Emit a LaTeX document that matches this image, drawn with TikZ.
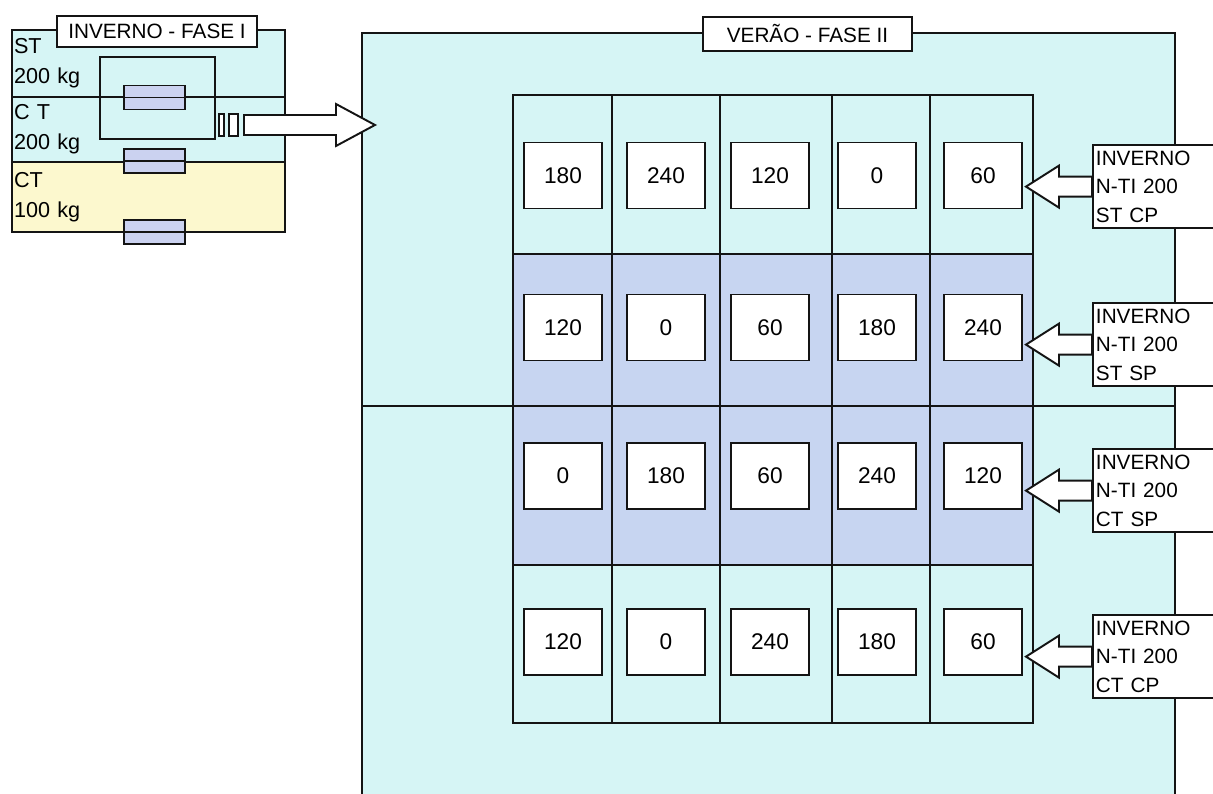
\documentclass[tikz,border=0pt]{standalone}
\usepackage{fontspec}
\setmainfont{Liberation Sans}
\usetikzlibrary{
  calc,
  positioning
}
\definecolor{ink}{HTML}{141414}
\definecolor{aqua}{HTML}{D6F5F5}
\definecolor{band}{HTML}{C7D5F1}
\definecolor{cream}{HTML}{FCF8CE}
\definecolor{tagblue}{HTML}{CBD2F0}
\newcommand{\lbl}{\fontsize{11.8}{16.2}\selectfont}
\newcommand{\num}{\fontsize{12.9}{15}\selectfont}
\newcommand{\fatarrow}[3]{%
  \draw[fat] ($(#1)+(0,-10)$) -- ($(#2)+(#3,-10)$) -- ($(#2)+(#3,-21)$) --
    (#2) -- ($(#2)+(#3,21)$) -- ($(#2)+(#3,10)$) -- ($(#1)+(0,10)$) -- cycle;
}
\tikzset{
  rule/.style={
    draw=ink,
    line width=1.1pt
  },
  panel/.style={
    rule,
    fill=aqua
  },
  fat/.style={
    rule,
    fill=white,
    line join=miter
  },
  section/.style={
    rule,
    fill=aqua,
    anchor=north west,
    outer sep=0pt,
    inner xsep=0.4mm,
    text width=53.8mm,
    align=left,
    font=\fontsize{12.3}{17}\selectfont
  },
  title/.style={
    rule,
    fill=white,
    inner sep=0pt,
    font=\lbl
  },
  tag/.style={
    rule,
    fill=tagblue,
    minimum width=12.2mm,
    minimum height=4.8mm,
    inner sep=0pt,
    path picture={
      \draw[rule] (path picture bounding box.west) --
        (path picture bounding box.east);
    }
  },
  dose/.style={
    rule,
    fill=white,
    minimum width=15.6mm,
    minimum height=13.2mm,
    inner sep=0pt,
    font=\num
  },
  trat/.style={
    rule,
    fill=white,
    anchor=north west,
    minimum height=16.6mm,
    text width=27mm,
    inner xsep=0.6mm,
    align=left,
    font=\lbl
  }
}

\begin{document}
\begin{tikzpicture}[x=0.2mm, y=-0.2mm]
  \useasboundingbox (0,0) rectangle (1213,794);
  \clip (0,0) rectangle (1213,794);

  \node[section, minimum height=13.4mm] (st) at (12,30) {ST\\200 kg};
  \node[section, minimum height=13mm, below=0mm of st] (ct1) {C T\\200 kg};
  \node[section, minimum height=14mm, fill=cream, below=0mm of ct1] (ct2)
    {CT\\100 kg};
  \node[rule, minimum width=23mm, minimum height=16.4mm] (sel) at (157.5,98) {};
  \node[tag] (t1) at ($(st.south)+(6,0.5)$) {};
  \node[tag] (t2) at ($(ct1.south)+(6,-1)$) {};
  \node[tag] (t3) at ($(ct2.south)+(6,0)$) {};
  \node[title, minimum width=40mm, minimum height=6.2mm] (fase1) at (157,31.5)
    {INVERNO - FASE I};

  \draw[panel] (362,33) rectangle (1175,850);
  \fill[band] (513,254) rectangle (1033,565);
  \draw[rule] (362,406) -- (1175,406);
  \draw[rule] (513,95) rectangle (1033,723);
  \draw[rule] (612,95) -- (612,723) (720,95) -- (720,723)
    (832,95) -- (832,723) (930,95) -- (930,723)
    (513,254) -- (1033,254) (513,565) -- (1033,565);
  \node[title, minimum width=41.8mm, minimum height=6.8mm] (fase2)
    at (807.5,34) {VERÃO - FASE II};

  \node[dose] (v11) at (563,175.5) {180};
  \node[dose] (v12) at (666,175.5) {240};
  \node[dose] (v13) at (770,175.5) {120};
  \node[dose] (v14) at (877,175.5) {0};
  \node[dose] (v15) at (983,175.5) {60};

  \node[dose] (v21) at (563,327.5) {120};
  \node[dose] (v22) at (666,327.5) {0};
  \node[dose] (v23) at (770,327.5) {60};
  \node[dose] (v24) at (877,327.5) {180};
  \node[dose] (v25) at (983,327.5) {240};

  \node[dose] (v31) at (563,476) {0};
  \node[dose] (v32) at (666,476) {180};
  \node[dose] (v33) at (770,476) {60};
  \node[dose] (v34) at (877,476) {240};
  \node[dose] (v35) at (983,476) {120};

  \node[dose] (v41) at (563,642) {120};
  \node[dose] (v42) at (666,642) {0};
  \node[dose] (v43) at (770,642) {240};
  \node[dose] (v44) at (877,642) {180};
  \node[dose] (v45) at (983,642) {60};

  \node[trat] (l1) at (1092,144) {INVERNO\\N-TI 200\\ST CP};
  \node[trat] (l2) at (1092,302) {INVERNO\\N-TI 200\\ST SP};
  \node[trat] (l3) at (1092,448) {INVERNO\\N-TI 200\\CT SP};
  \node[trat] (l4) at (1092,614) {INVERNO\\N-TI 200\\CT CP};

  \coordinate (p1) at ($(v15.east |- l1.west)+(3,0)$);
  \coordinate (p2) at ($(v25.east |- l2.west)+(3,0)$);
  \coordinate (p3) at ($(v35.east |- l3.west)+(3,0)$);
  \coordinate (p4) at ($(v45.east |- l4.west)+(3,0)$);
  \fatarrow{l1.west}{p1}{33}
  \fatarrow{l2.west}{p2}{33}
  \fatarrow{l3.west}{p3}{33}
  \fatarrow{l4.west}{p4}{33}

  \coordinate (a0) at ($(sel.east)+(28,27)$);
  \coordinate (a1) at (375,125);
  \draw[fat] ($(a0)+(-25,-11)$) rectangle ($(a0)+(-20,11)$);
  \draw[fat] ($(a0)+(-15,-11)$) rectangle ($(a0)+(-6,11)$);
  \fatarrow{a0}{a1}{-39}
\end{tikzpicture}
\end{document}
